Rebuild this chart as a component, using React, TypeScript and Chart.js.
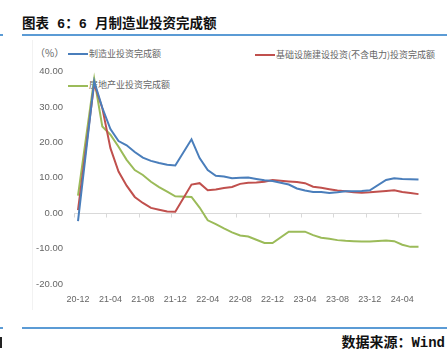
import React, { useEffect, useRef } from "react";
import { Chart, registerables } from "chart.js";

Chart.register(...registerables);

const months = [
  "20-12",
  "21-01", "21-02", "21-03", "21-04", "21-05", "21-06", "21-07", "21-08", "21-09", "21-10", "21-11", "21-12",
  "22-01", "22-02", "22-03", "22-04", "22-05", "22-06", "22-07", "22-08", "22-09", "22-10", "22-11", "22-12",
  "23-01", "23-02", "23-03", "23-04", "23-05", "23-06", "23-07", "23-08", "23-09", "23-10", "23-11", "23-12",
  "24-01", "24-02", "24-03", "24-04", "24-05", "24-06",
];

const manufacturing = [
  -2.2,
  null, 37.3, 29.8, 23.8, 20.4, 19.2, 17.3, 15.7, 14.8, 14.2, 13.7, 13.5,
  null, 20.9, 15.6, 12.2, 10.6, 10.4, 9.9, 10.0, 10.1, 9.7, 9.3, 9.1,
  null, 8.1, 7.0, 6.4, 6.0, 6.0, 5.7, 5.9, 6.2, 6.2, 6.3, 6.5,
  null, 9.4, 9.9, 9.7, 9.6, 9.5,
];

const infrastructure = [
  0.9,
  null, 36.6, 29.7, 18.4, 11.8, 7.8, 4.6, 2.9, 1.5, 1.0, 0.5, 0.4,
  null, 8.1, 8.5, 6.5, 6.7, 7.1, 7.4, 8.3, 8.6, 8.7, 8.9, 9.4,
  null, 9.0, 8.8, 8.5, 7.5, 7.2, 6.8, 6.4, 6.2, 5.9, 5.8, 5.9,
  null, 6.3, 6.5, 6.0, 5.7, 5.4,
];

const realEstate = [
  5.0,
  null, 38.0, 24.5, 22.2, 18.8, 15.1, 12.2, 10.8, 8.9, 7.4, 6.1, 4.8,
  null, 4.6, 1.6, -2.0, -3.1, -4.3, -5.4, -6.3, -6.6, -7.5, -8.4, -8.4,
  null, -5.2, -5.2, -5.2, -6.2, -6.9, -7.2, -7.6, -7.8, -7.9, -8.0, -8.0,
  null, -7.7, -7.9, -8.9, -9.5, -9.5,
];

const seriesNames = ["制造业投资完成额", "基础设施建设投资(不含电力)投资完成额", "房地产业投资完成额"];
const seriesColors = ["#4a7ebb", "#c0504d", "#9bbb59"];
const yMin = -20;
const yMax = 40;
const yStep = 10;
const labelEvery = 4;

const TICK_FONT = '"Liberation Sans", Arial, sans-serif';
const CJK_FONT = '"Noto Sans CJK SC", sans-serif';

const zeroAxisPlugin = {
  id: "zeroAxis",
  beforeDatasetsDraw(chart: any) {
    const x = chart.scales.x;
    const y = chart.scales.y;
    const ctx = chart.ctx;
    const y0 = Math.round(y.getPixelForValue(0)) + 0.5;
    const step = x.getPixelForValue(1) - x.getPixelForValue(0);
    const half = step / 2;
    ctx.save();
    ctx.strokeStyle = "#d9d9d9";
    ctx.lineWidth = 1;
    ctx.beginPath();
    ctx.moveTo(x.getPixelForValue(0) - half, y0);
    ctx.lineTo(x.getPixelForValue(months.length - 1) + 3, y0);
    for (let i = 0; i < months.length; i += labelEvery) {
      const px = Math.round(x.getPixelForValue(i) - half) + 0.5;
      ctx.moveTo(px, y0);
      ctx.lineTo(px, y0 + 4);
    }
    ctx.stroke();
    ctx.restore();
  },
};

export default function App() {
  const ref = useRef<HTMLCanvasElement>(null);

  useEffect(() => {
    if (!ref.current) return;
    const data = [manufacturing, infrastructure, realEstate];
    const chart = new Chart(ref.current, {
      type: "line",
      data: {
        labels: months,
        datasets: data.map((d, i) => ({
          label: seriesNames[i],
          data: d,
          borderColor: seriesColors[i],
          backgroundColor: seriesColors[i],
          borderWidth: 2,
          pointRadius: 0,
          tension: 0,
          spanGaps: true,
          fill: false,
        })),
      },
      options: {
        responsive: false,
        animation: false,
        layout: { padding: { left: 0, right: 28.5, top: 31.7, bottom: 0 } },
        plugins: { legend: { display: false }, tooltip: { enabled: false }, title: { display: false } },
        scales: {
          x: {
            offset: false,
            grid: { display: false, drawTicks: false },
            border: { display: false },
            afterFit: (s: any) => { s.height = 31; },
            ticks: {
              autoSkip: false,
              maxRotation: 0,
              minRotation: 0,
              padding: 10,
              color: "#666666",
              font: { family: TICK_FONT, size: 9 },
              callback: (_v: any, i: number) => (i % labelEvery === 0 ? months[i] : ""),
            },
          },
          y: {
            min: yMin,
            max: yMax,
            grid: { display: false, drawTicks: false },
            border: { display: false },
            afterFit: (s: any) => { s.width = 78; },
            ticks: {
              stepSize: yStep,
              padding: 15,
              color: "#666666",
              font: { family: TICK_FONT, size: 9.5 },
              callback: (v: any) => Number(v).toFixed(2),
            },
          },
        },
      },
      plugins: [zeroAxisPlugin],
    });
    return () => chart.destroy();
  }, []);

  const abs = (s: React.CSSProperties): React.CSSProperties => ({ position: "absolute", ...s });
  const legendText: React.CSSProperties = {
    fontFamily: CJK_FONT,
    fontSize: 9,
    lineHeight: "12px",
    height: 12,
    color: "#666666",
    whiteSpace: "nowrap",
  };

  return (
    <div style={{ position: "fixed", left: 0, top: 0, width: 447, height: 354, background: "#fff", overflow: "hidden" }}>
      <div style={abs({ left: 22, top: 16, fontFamily: '"Liberation Mono", "Noto Sans CJK SC", monospace', fontWeight: "bold", fontSize: 13.5, lineHeight: "18px", color: "#111", whiteSpace: "nowrap" })}>
        图表 6：6 月制造业投资完成额
      </div>
      <div style={abs({ left: 22, top: 34, width: 425, height: 2, background: "#5b9bd5" })} />
      <div style={abs({ left: 0, top: 34, width: 3, height: 2, background: "#5b9bd5" })} />

      <div style={abs({ left: 32, top: 40, width: 1, height: 270, background: "#f2f2f2" })} />

      <div style={abs({ ...legendText, left: 35, top: 46.5, fontSize: 10 })}>（%）</div>

      <div style={abs({ left: 68, top: 53, width: 20, height: 2, background: seriesColors[0] })} />
      <div style={abs({ ...legendText, left: 89, top: 47.5 })}>{seriesNames[0]}</div>

      <div style={abs({ left: 255, top: 54, width: 20, height: 2, background: seriesColors[1] })} />
      <div style={abs({ ...legendText, left: 276, top: 49 })}>{seriesNames[1]}</div>

      <div style={abs({ left: 68, top: 84.5, width: 20, height: 2, background: seriesColors[2] })} />
      <div style={abs({ ...legendText, left: 89, top: 79 })}>{seriesNames[2]}</div>

      <canvas ref={ref} width={447} height={275} style={abs({ left: 0, top: 40, width: 447, height: 275 })} />

      <div style={abs({ left: 22, top: 327, width: 425, height: 2, background: "#5b9bd5" })} />
      <div style={abs({ left: 0, top: 327, width: 3, height: 2, background: "#5b9bd5" })} />
      <div style={abs({ left: 0, top: 337, width: 2, height: 11, background: "#222" })} />
      <div style={abs({ right: 2, top: 334, fontFamily: '"Liberation Mono", "Noto Sans CJK SC", monospace', fontWeight: "bold", fontSize: 14, lineHeight: "18px", color: "#111", whiteSpace: "nowrap" })}>
        数据来源：Wind
      </div>
    </div>
  );
}
